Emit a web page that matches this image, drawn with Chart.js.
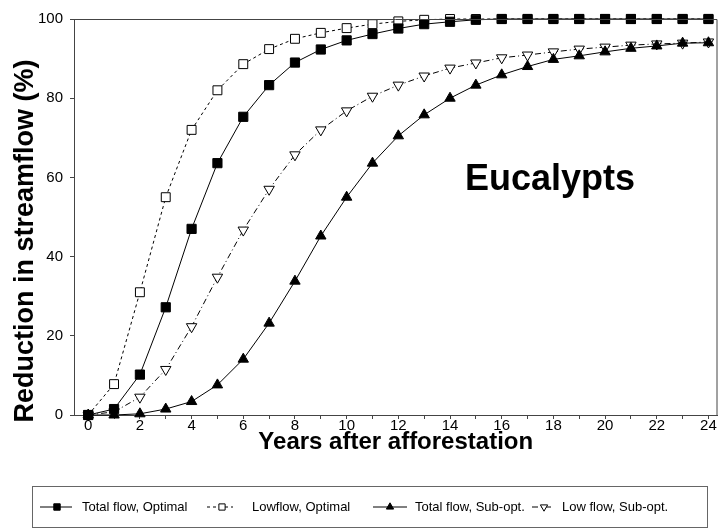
<!DOCTYPE html>
<html>
<head>
<meta charset="utf-8">
<script src="https://cdn.jsdelivr.net/npm/chart.js@4.4.0/dist/chart.umd.min.js"></script>
<style>
  html, body { margin: 0; padding: 0; background: #fff; }
  #wrap { width: 725px; height: 529px; }
</style>
</head>
<body>
<div id="wrap"><canvas id="myChart"></canvas></div>
<script>
const years = [0, 1, 2, 3, 4, 5, 6, 7, 8, 9, 10, 11, 12, 13, 14, 15, 16, 17, 18, 19, 20, 21, 22, 23, 24];
const totalOptimal = [0, 1.5, 10.2, 27.2, 47, 63.6, 75.3, 83.3, 89, 92.3, 94.6, 96.2, 97.6, 98.7, 99.3, 99.8, 100, 100, 100, 100, 100, 100, 100, 100, 100];
const lowOptimal = [0, 7.8, 31, 55, 72, 82, 88.6, 92.4, 95, 96.5, 97.7, 98.7, 99.4, 99.8, 100, 100, 100, 100, 100, 100, 100, 100, 100, 100, 100];
const totalSubOpt = [0, 0, 0.3, 1.5, 3.4, 7.6, 14.1, 23.2, 33.8, 45.2, 55, 63.6, 70.5, 75.8, 80, 83.3, 85.9, 88, 89.8, 90.7, 91.7, 92.6, 93.2, 93.9, 94];
const lowSubOpt = [0, 0.8, 4.5, 11.5, 22.3, 34.8, 46.7, 57, 65.7, 72, 76.8, 80.5, 83.3, 85.6, 87.6, 88.9, 90.2, 90.9, 91.7, 92.4, 92.9, 93.4, 93.7, 93.9, 94.2];
const yTickValues = [0, 20, 40, 60, 80, 100];
const seriesNames = ['Total flow, Optimal', 'Lowflow, Optimal', 'Total flow, Sub-opt.', 'Low flow, Sub-opt.'];

const FONT = '"Liberation Sans", Arial, sans-serif';
const INK = '#000';
const FRAME = '#444';

const toPoints = (arr) => arr.map((v, i) => ({ x: years[i], y: v }));

// legend layout: [line start, line end, marker x, text x] per series
const legendSlots = [
  [40, 72, 57, 82],
  [207, 233, 222, 252],
  [373, 407, 390, 415],
  [532, 553, 544, 562],
];

const extrasPlugin = {
  id: 'extras',
  afterDraw(chart) {
    const ctx = chart.ctx;
    const a = chart.chartArea;
    ctx.save();

    // top and right sides of the frame
    ctx.strokeStyle = FRAME;
    ctx.lineWidth = 1;
    ctx.beginPath();
    ctx.moveTo(a.left, a.top + 0.5);
    ctx.lineTo(a.right - 0.5, a.top + 0.5);
    ctx.lineTo(a.right - 0.5, a.bottom);
    ctx.stroke();

    // y axis title
    ctx.fillStyle = INK;
    ctx.font = 'bold 27px ' + FONT;
    ctx.textAlign = 'center';
    ctx.textBaseline = 'middle';
    ctx.translate(26, 241);
    ctx.rotate(-Math.PI / 2);
    ctx.fillText('Reduction in streamflow (%)', 0, 0);
    ctx.restore();

    ctx.save();
    // annotation
    ctx.fillStyle = INK;
    ctx.font = 'bold 36px ' + FONT;
    ctx.textAlign = 'left';
    ctx.textBaseline = 'alphabetic';
    ctx.fillText('Eucalypts', 465, 190);

    // legend box
    ctx.strokeStyle = '#666';
    ctx.lineWidth = 1;
    ctx.strokeRect(32.5, 486.5, 675, 41);

    const ly = 507;
    chart.data.datasets.forEach((ds, i) => {
      const [x0, x1, mx, tx] = legendSlots[i];
      ctx.strokeStyle = ds.borderColor;
      ctx.lineWidth = 1;
      ctx.setLineDash(ds.borderDash || []);
      ctx.beginPath();
      ctx.moveTo(x0, ly);
      ctx.lineTo(x1, ly);
      ctx.stroke();
      ctx.setLineDash([]);
      ctx.fillStyle = ds.pointBackgroundColor;
      ctx.strokeStyle = ds.pointBorderColor;
      ctx.lineWidth = ds.pointBorderWidth;
      Chart.helpers.drawPoint(ctx, {
        pointStyle: ds.pointStyle,
        radius: ds.pointRadius * 0.7,
        rotation: ds.pointRotation || 0,
        borderWidth: ds.pointBorderWidth,
      }, mx, ly);
      ctx.fillStyle = INK;
      ctx.font = '13px ' + FONT;
      ctx.textAlign = 'left';
      ctx.textBaseline = 'middle';
      ctx.fillText(ds.label, tx, ly);
    });
    ctx.restore();
  }
};

const ctx = document.getElementById('myChart');

new Chart(ctx, {
  type: 'line',
  data: {
    datasets: [
      {
        label: seriesNames[0],
        data: toPoints(totalOptimal),
        borderColor: INK,
        borderWidth: 1,
        pointStyle: 'rect',
        pointRadius: 6.5,
        pointBackgroundColor: INK,
        pointBorderColor: INK,
        pointBorderWidth: 1,
        clip: false,
      },
      {
        label: seriesNames[1],
        data: toPoints(lowOptimal),
        borderColor: INK,
        borderWidth: 1,
        borderDash: [3, 3],
        pointStyle: 'rect',
        pointRadius: 6.3,
        pointBackgroundColor: '#fff',
        pointBorderColor: INK,
        pointBorderWidth: 1,
        clip: false,
      },
      {
        label: seriesNames[2],
        data: toPoints(totalSubOpt),
        borderColor: INK,
        borderWidth: 1,
        pointStyle: 'triangle',
        pointRadius: 6,
        pointBackgroundColor: INK,
        pointBorderColor: INK,
        pointBorderWidth: 1,
        clip: false,
      },
      {
        label: seriesNames[3],
        data: toPoints(lowSubOpt),
        borderColor: INK,
        borderWidth: 1,
        borderDash: [6, 3, 1, 3],
        pointStyle: 'triangle',
        pointRotation: 180,
        pointRadius: 6,
        pointBackgroundColor: '#fff',
        pointBorderColor: INK,
        pointBorderWidth: 1,
        clip: false,
      },
    ],
  },
  options: {
    responsive: true,
    maintainAspectRatio: false,
    animation: false,
    layout: { padding: { left: 0, right: 2, top: 19, bottom: 72 } },
    plugins: {
      legend: { display: false },
      tooltip: { enabled: false },
    },
    scales: {
      x: {
        type: 'linear',
        min: -0.55,
        max: 24.35,
        afterBuildTicks: (scale) => { scale.ticks = years.map(v => ({ value: v })); },
        afterFit: (scale) => { scale.height = 42; },
        border: { color: FRAME, width: 1 },
        grid: { drawOnChartArea: false, drawTicks: true, tickLength: 4, color: FRAME },
        ticks: {
          color: INK,
          font: { family: FONT, size: 15 },
          padding: -2,
          maxRotation: 0,
          autoSkip: false,
          callback: (v) => (v % 2 === 0 ? String(v) : ''),
        },
        title: {
          display: true,
          text: 'Years after afforestation',
          color: INK,
          font: { family: FONT, size: 24, weight: 'bold' },
          padding: 0,
        },
      },
      y: {
        min: 0,
        max: 100,
        afterBuildTicks: (scale) => { scale.ticks = yTickValues.map(v => ({ value: v })); },
        afterFit: (scale) => { scale.width = 74; },
        border: { color: FRAME, width: 1 },
        grid: { drawOnChartArea: false, drawTicks: true, tickLength: 4, color: FRAME },
        ticks: {
          color: INK,
          font: { family: FONT, size: 15 },
          padding: 7,
        },
      },
    },
  },
  plugins: [extrasPlugin],
});
</script>
</body>
</html>
